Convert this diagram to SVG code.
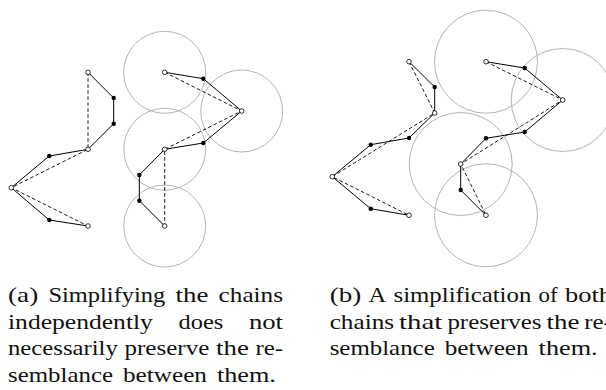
<svg xmlns="http://www.w3.org/2000/svg" width="606" height="390" viewBox="0 0 606 390">
  <style>
    .disk { fill: none; stroke: #b4b4b4; stroke-width: 1; }
    .chain { fill: none; stroke: #000; stroke-width: 1; stroke-linejoin: round; }
    .simp { fill: none; stroke: #000; stroke-width: 0.9; stroke-dasharray: 3.6 2.4; }
    .open { fill: #fff; stroke: #000; stroke-width: 0.8; }
    .full { fill: #000; }
    .cap { font-family: 'Liberation Serif', 'DejaVu Serif', 'Times New Roman', serif; font-size: 21px; fill: #111; }
  </style>
  <defs>
    <circle id="vo" r="2.3" class="open"/>
    <circle id="vf" r="2.2" class="full"/>
  </defs>

  <!-- (a) tolerance disks around the kept vertices of the right chain -->
  <g id="disks-a">
    <circle class="disk" cx="164.7" cy="72.3" r="41"/>
    <circle class="disk" cx="241.7" cy="111" r="41"/>
    <circle class="disk" cx="164.7" cy="149.3" r="41"/>
    <circle class="disk" cx="164.7" cy="226" r="41"/>
  </g>

  <!-- (b) tolerance disks -->
  <g id="disks-b">
    <circle class="disk" cx="486" cy="61.7" r="51.5"/>
    <circle class="disk" cx="562.7" cy="100" r="51.5"/>
    <circle class="disk" cx="460.7" cy="164" r="51.5"/>
    <circle class="disk" cx="486" cy="215.3" r="51.5"/>
  </g>

  <g id="connectors">
    <!-- simplified chains (dashed) -->
    <polyline class="simp" points="88,72.3 88,149.3 11.3,187.7 88,226"/>
    <polyline class="simp" points="164.7,72.3 241.7,111 164.7,149.3 164.7,226"/>
    <polyline class="simp" points="409,61.7 434.7,113 332.3,176.7 409,215.3"/>
    <polyline class="simp" points="486,61.7 562.7,100 460.7,164 486,215.3"/>
    <!-- original chains -->
    <polyline class="chain" points="88,72.3 113.7,98 113.7,123.7 88,149.3 49.3,156 11.3,187.7 49.3,220 88,226"/>
    <polyline class="chain" points="164.7,72.3 203.3,78.7 241.7,111 203.3,143 164.7,149.3 139.3,175 139.3,200.7 164.7,226"/>
    <polyline class="chain" points="409,61.7 434.7,87 434.7,113 409,138 370.7,144.7 332.3,176.7 370.7,208.7 409,215.3"/>
    <polyline class="chain" points="486,61.7 524.7,68 562.7,100 524.7,132 486,138.3 460.7,164 460.7,190 486,215.3"/>
  </g>

  <g id="chain-a1">
    <use href="#vo" x="88" y="72.3"/>
    <use href="#vf" x="113.7" y="98"/>
    <use href="#vf" x="113.7" y="123.7"/>
    <use href="#vo" x="88" y="149.3"/>
    <use href="#vf" x="49.3" y="156"/>
    <use href="#vo" x="11.3" y="187.7"/>
    <use href="#vf" x="49.3" y="220"/>
    <use href="#vo" x="88" y="226"/>
  </g>
  <g id="chain-a2">
    <use href="#vo" x="164.7" y="72.3"/>
    <use href="#vf" x="203.3" y="78.7"/>
    <use href="#vo" x="241.7" y="111"/>
    <use href="#vf" x="203.3" y="143"/>
    <use href="#vo" x="164.7" y="149.3"/>
    <use href="#vf" x="139.3" y="175"/>
    <use href="#vf" x="139.3" y="200.7"/>
    <use href="#vo" x="164.7" y="226"/>
  </g>
  <g id="chain-b1">
    <use href="#vo" x="409" y="61.7"/>
    <use href="#vf" x="434.7" y="87"/>
    <use href="#vo" x="434.7" y="113"/>
    <use href="#vf" x="409" y="138"/>
    <use href="#vf" x="370.7" y="144.7"/>
    <use href="#vo" x="332.3" y="176.7"/>
    <use href="#vf" x="370.7" y="208.7"/>
    <use href="#vo" x="409" y="215.3"/>
  </g>
  <g id="chain-b2">
    <use href="#vo" x="486" y="61.7"/>
    <use href="#vf" x="524.7" y="68"/>
    <use href="#vo" x="562.7" y="100"/>
    <use href="#vf" x="524.7" y="132"/>
    <use href="#vf" x="486" y="138.3"/>
    <use href="#vo" x="460.7" y="164"/>
    <use href="#vf" x="460.7" y="190"/>
    <use href="#vo" x="486" y="215.3"/>
  </g>

  <!-- captions: each word placed and sized so the lines are justified -->
  <g id="caption-a" class="cap" lengthAdjust="spacingAndGlyphs">
    <text x="8" y="302" textLength="30.2" lengthAdjust="spacingAndGlyphs">(a)</text>
    <text x="48.5" y="302" textLength="116.7" lengthAdjust="spacingAndGlyphs">Simplifying</text>
    <text x="175.5" y="302" textLength="32.8" lengthAdjust="spacingAndGlyphs">the</text>
    <text x="218.6" y="302" textLength="64.4" lengthAdjust="spacingAndGlyphs">chains</text>

    <text x="8" y="328.5" textLength="144.9" lengthAdjust="spacingAndGlyphs">independently</text>
    <text x="178.6" y="328.5" textLength="44.7" lengthAdjust="spacingAndGlyphs">does</text>
    <text x="248.9" y="328.5" textLength="34.1" lengthAdjust="spacingAndGlyphs">not</text>

    <text x="8" y="355" textLength="109.8" lengthAdjust="spacingAndGlyphs">necessarily</text>
    <text x="124.5" y="355" textLength="84.8" lengthAdjust="spacingAndGlyphs">preserve</text>
    <text x="216" y="355" textLength="32.8" lengthAdjust="spacingAndGlyphs">the</text>
    <text x="255.5" y="355" textLength="27.6" lengthAdjust="spacingAndGlyphs">re-</text>

    <text x="8" y="382" textLength="105" lengthAdjust="spacingAndGlyphs">semblance</text>
    <text x="123" y="382" textLength="83.9" lengthAdjust="spacingAndGlyphs">between</text>
    <text x="216.9" y="382" textLength="59" lengthAdjust="spacingAndGlyphs">them.</text>
  </g>
  <g id="caption-b" class="cap">
    <text x="329.7" y="302" textLength="31.5" lengthAdjust="spacingAndGlyphs">(b)</text>
    <text x="368.5" y="302" textLength="17.7" lengthAdjust="spacingAndGlyphs">A</text>
    <text x="393.5" y="302" textLength="137.8" lengthAdjust="spacingAndGlyphs">simplification</text>
    <text x="538.6" y="302" textLength="19" lengthAdjust="spacingAndGlyphs">of</text>
    <text x="564.9" y="302" textLength="47.2" lengthAdjust="spacingAndGlyphs">both</text>

    <text x="329.7" y="328.5" textLength="64.4" lengthAdjust="spacingAndGlyphs">chains</text>
    <text x="399.1" y="328.5" textLength="43.3" lengthAdjust="spacingAndGlyphs">that</text>
    <text x="447.4" y="328.5" textLength="94.1" lengthAdjust="spacingAndGlyphs">preserves</text>
    <text x="546.5" y="328.5" textLength="32.8" lengthAdjust="spacingAndGlyphs">the</text>
    <text x="584.3" y="328.5" textLength="27.6" lengthAdjust="spacingAndGlyphs">re-</text>

    <text x="329.7" y="355" textLength="105" lengthAdjust="spacingAndGlyphs">semblance</text>
    <text x="444.7" y="355" textLength="83.9" lengthAdjust="spacingAndGlyphs">between</text>
    <text x="538.6" y="355" textLength="59" lengthAdjust="spacingAndGlyphs">them.</text>
  </g>
</svg>
